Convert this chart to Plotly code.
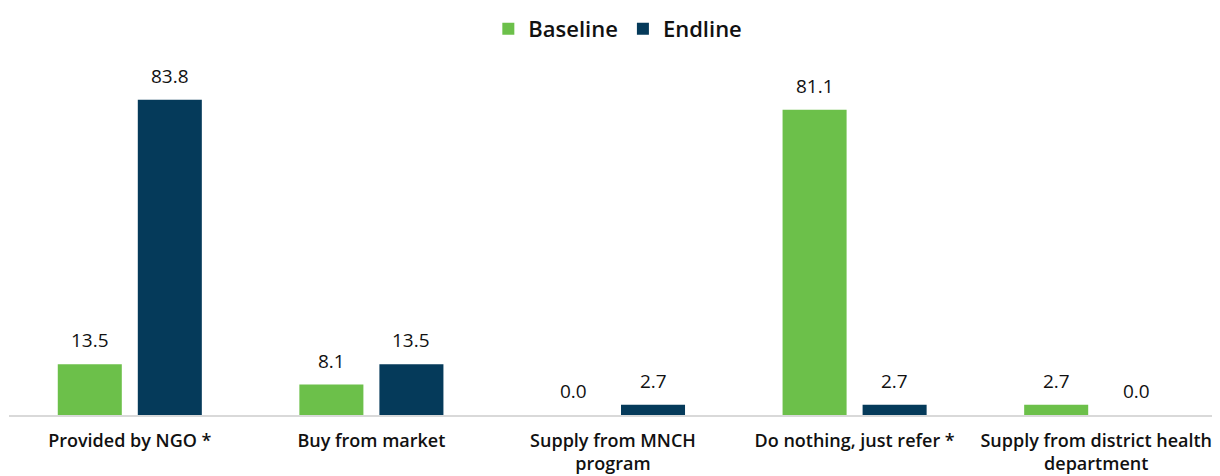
import plotly.graph_objects as go

categorias = ['Provided by NGO *', 'Buy from market', 'Supply from MNCH<br>program',
              'Do nothing, just refer *', 'Supply from district health<br>department']
baseline = [13.5, 8.1, 0.0, 81.1, 2.7]
endline = [83.8, 13.5, 2.7, 2.7, 0.0]

CORES = {'baseline': '#6cc04a', 'endline': '#053a5a', 'texto': '#111111'}
FONTE = 'Open Sans, Liberation Sans, Arial, sans-serif'

fig = go.Figure()
series = [('Baseline', baseline, CORES['baseline'], -40),
          ('Endline', endline, CORES['endline'], 40)]
for nome, valores, cor, desloc in series:
    fig.add_trace(go.Bar(
        name=nome, x=categorias, y=valores,
        marker=dict(color=cor, line=dict(width=0)),
        cliponaxis=False
    ))
    # rotulos de valor acima de cada barra
    for cat, v in zip(categorias, valores):
        fig.add_annotation(
            x=cat, y=v, text=f'{v:.1f}', showarrow=False,
            xshift=desloc, yshift=9, yanchor='bottom',
            font=dict(size=19, color=CORES['texto'], family=FONTE, weight=500)
        )

# a pagina tem margem de 8px no body, por isso a figura e 8px menor
fig.update_layout(
    width=1212, height=468,
    barmode='group', bargap=0.3375, bargroupgap=0.2,
    margin=dict(l=1, r=3, t=41, b=61),
    paper_bgcolor='white', plot_bgcolor='white',
    font=dict(family=FONTE, color=CORES['texto']),
    legend=dict(orientation='h', x=0.504, xanchor='center',
                yref='container', y=1, yanchor='top',
                font=dict(size=22, family=FONTE, weight=600),
                traceorder='normal', bgcolor='rgba(0,0,0,0)'),
    xaxis=dict(showline=True, linecolor='#d9d9d9', linewidth=2, ticks='',
               automargin=False, ticklabelstandoff=8,
               tickfont=dict(size=18, family=FONTE, weight=600)),
    yaxis=dict(range=[0, 97], visible=False, showgrid=False, automargin=False),
)

fig.write_html('out.html')
